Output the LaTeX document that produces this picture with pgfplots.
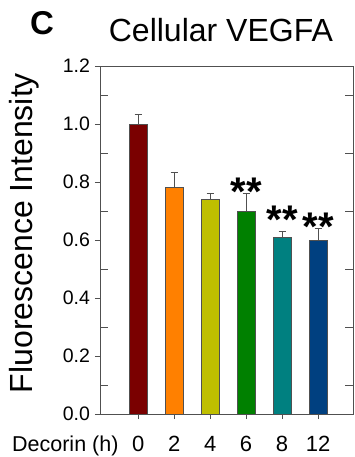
\documentclass[border=0pt]{standalone}
\usepackage{fontspec}
\setmainfont{Liberation Sans}
\usepackage{pgfplots}
\pgfplotsset{compat=1.18}

\definecolor{barred}{HTML}{7A0000}
\definecolor{barorange}{HTML}{FF8000}
\definecolor{barolive}{HTML}{BFBF00}
\definecolor{bargreen}{HTML}{008000}
\definecolor{barteal}{HTML}{008080}
\definecolor{barblue}{HTML}{004080}
\definecolor{axisgray}{HTML}{505050}

\pgfplotsset{
  panelaxis/.style={
    at={(0,0)}, anchor=south west,
    scale only axis, width=253pt, height=348pt,
    xmin=-1.06, xmax=5.97, ymin=0, ymax=1.2,
    axis line style={axisgray, line width=0.9pt},
    every tick/.style={axisgray, line width=0.9pt},
  },
}

\begin{document}
\begin{tikzpicture}
\useasboundingbox (-100pt,-43pt) rectangle (255pt,414pt);

% minor ticks, pointing inward on both sides
\begin{axis}[panelaxis,
  xtick=\empty,
  ytick={0.1,0.3,0.5,0.7,0.9,1.1}, yticklabels={},
  ytick pos=both, tick align=inside, major tick length=8pt]
\end{axis}

\begin{axis}[panelaxis,
  ybar, bar width=18pt, bar shift=0pt,
  xtick={0,1,2,3,4,5}, xticklabels={0,2,4,6,8,12},
  xtick pos=bottom, ytick pos=left,
  tick align=outside, major tick length=5pt,
  ytick={0,0.2,...,1.2},
  /pgf/number format/.cd, fixed, fixed zerofill, precision=1, assume math mode=true,
  /pgfplots/.cd,
  yticklabel style={font=\fontsize{19.5}{21}\selectfont, xshift=-1.5pt},
  xticklabel style={font=\fontsize{22}{24}\selectfont, anchor=base, yshift=-32pt},
  ylabel={Fluorescence Intensity},
  every axis y label/.style={at={(rel axis cs:-0.300,0.52)}, rotate=90, anchor=center,
    font=\fontsize{32}{34}\selectfont},
  error bars/y dir=plus, error bars/y explicit,
  error bars/error bar style={axisgray, line width=0.9pt},
  error bars/error mark options={axisgray, rotate=90, mark size=3.5pt, line width=0.9pt},
  every axis plot/.append style={draw=axisgray, line width=0.6pt},
  clip=false,
]
\addplot[fill=barred]    coordinates {(0,1.000) +- (0,0.032)};
\addplot[fill=barorange] coordinates {(1,0.780) +- (0,0.052)};
\addplot[fill=barolive]  coordinates {(2,0.740) +- (0,0.020)};
\addplot[fill=bargreen]  coordinates {(3,0.700) +- (0,0.060)};
\addplot[fill=barteal]   coordinates {(4,0.610) +- (0,0.021)};
\addplot[fill=barblue]   coordinates {(5,0.600) +- (0,0.041)};

% significance marks
\node[anchor=north, inner sep=0pt, font=\fontsize{40}{40}\selectfont\bfseries] at (axis cs:3,0.814) {**};
\node[anchor=north, inner sep=0pt, font=\fontsize{40}{40}\selectfont\bfseries] at (axis cs:4,0.717) {**};
\node[anchor=north, inner sep=0pt, font=\fontsize{40}{40}\selectfont\bfseries] at (axis cs:5,0.693) {**};

% x axis caption, title and panel letter
\node[anchor=base west, inner sep=0pt, font=\fontsize{21.5}{24}\selectfont] at (rel axis cs:-0.348,0) [yshift=-37pt] {Decorin (h)};
\node[anchor=base, inner sep=0pt, font=\fontsize{32}{34}\selectfont] at (rel axis cs:0.478,1) [yshift=24pt] {Cellular VEGFA};
\node[anchor=base west, inner sep=0pt, font=\fontsize{33}{35}\selectfont\bfseries] at (rel axis cs:-0.277,1) [yshift=31pt] {C};
\end{axis}
\end{tikzpicture}
\end{document}
